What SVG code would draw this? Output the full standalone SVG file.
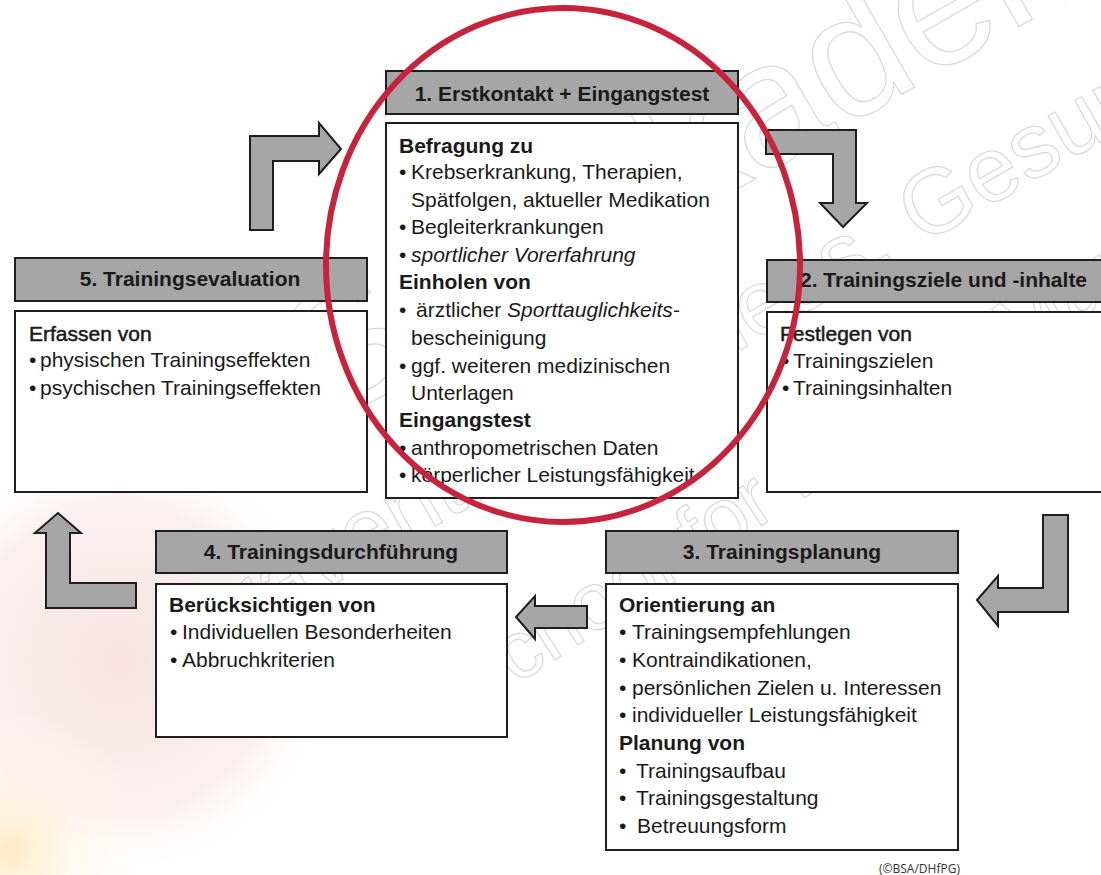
<svg xmlns="http://www.w3.org/2000/svg" width="1101" height="875" viewBox="0 0 1101 875">
<style>
.hdr{fill:#a6a6a6;stroke:#1e1e1e;stroke-width:2}
.body{fill:#ffffff;stroke:#1e1e1e;stroke-width:2}
.arr{fill:#a6a6a6;stroke:#1e1e1e;stroke-width:2;stroke-linejoin:miter}
.ht{font-family:"Liberation Sans",Arial,sans-serif;font-size:21px;font-weight:bold;fill:#1a1a1a;text-anchor:middle}
.t{font-family:"Liberation Sans",Arial,sans-serif;font-size:21px;fill:#1a1a1a}
.b{font-weight:bold}
.i{font-style:italic}
.sb{stroke:#1a1a1a;stroke-width:0.5}
.wm{font-family:"Liberation Sans",Arial,sans-serif;fill:none;stroke:#dadada;stroke-width:1.3}
</style>
<defs>
<radialGradient id="pink" cx="0.5" cy="0.5" r="0.5">
<stop offset="0" stop-color="#f6dede" stop-opacity="0.9"/>
<stop offset="0.7" stop-color="#f8e6e6" stop-opacity="0.6"/>
<stop offset="1" stop-color="#ffffff" stop-opacity="0"/>
</radialGradient>
<radialGradient id="orange" cx="0.5" cy="0.5" r="0.5">
<stop offset="0" stop-color="#fde8c0" stop-opacity="0.9"/>
<stop offset="1" stop-color="#ffffff" stop-opacity="0"/>
</radialGradient>
</defs>
<rect width="1101" height="875" fill="#ffffff"/>
<g id="background">
<circle cx="120" cy="660" r="220" fill="url(#pink)"/>
<circle cx="10" cy="850" r="140" fill="url(#orange)"/>
</g>
<g id="watermark">
<text class="wm" font-size="175" transform="translate(225,485) rotate(-30)">BSA-Akademie</text>
<text class="wm" font-size="92" transform="translate(195,665) rotate(-30)">Prävention, Fitness, Gesundheit</text>
<text class="wm" font-size="82" transform="translate(470,715) rotate(-33)">School for Health Management</text>
</g>
<g id="connectors">
<polygon class="arr" points="250,230 250,136 319,136 319,123 341,149 319,174 319,161 273,161 273,230"/>
<polygon class="arr" points="766,130 856,130 856,203 867,203 843,227 820,203 833,203 833,154 766,154"/>
<polygon class="arr" points="1068,515 1068,612 998,612 998,626 977,600 998,576 998,588 1043,588 1043,515"/>
<polygon class="arr" points="587,606 587,628 535,628 535,639 516,617 535,596 535,606"/>
<polygon class="arr" points="46,608 136,608 136,583 70,583 70,533 81,533 58,513 35,533 46,533"/>
</g>
<g id="node1">
<rect class="hdr" x="386" y="71" width="352" height="43"/>
<text class="ht" x="562" y="101">1. Erstkontakt + Eingangstest</text>
<rect class="body" x="386" y="123" width="352" height="375"/>
<text class="t b" x="399" y="153">Befragung zu</text>
<text class="t" x="399" y="179">•<tspan x="411">Krebserkrankung, Therapien,</tspan></text>
<text class="t" x="411" y="207">Spätfolgen, aktueller Medikation</text>
<text class="t" x="399" y="234">•<tspan x="411">Begleiterkrankungen</tspan></text>
<text class="t" x="399" y="262">•<tspan x="411" class="i">sportlicher Vorerfahrung</tspan></text>
<text class="t b" x="399" y="289">Einholen von</text>
<text class="t" x="399" y="317">•<tspan x="416">ärztlicher </tspan><tspan class="i">Sporttauglichkeits-</tspan></text>
<text class="t" x="411" y="345">bescheinigung</text>
<text class="t" x="399" y="373">•<tspan x="411">ggf. weiteren medizinischen</tspan></text>
<text class="t" x="411" y="400">Unterlagen</text>
<text class="t b" x="399" y="427">Eingangstest</text>
<text class="t" x="399" y="455">•<tspan x="411">anthropometrischen Daten</tspan></text>
<text class="t" x="399" y="482">•<tspan x="411">körperlicher Leistungsfähigkeit</tspan></text>
</g>
<g id="node2">
<rect class="hdr" x="767" y="260" width="352" height="42"/>
<text class="ht" x="800" y="287" style="text-anchor:start">2. Trainingsziele und  -inhalte</text>
<rect class="body" x="767" y="312" width="352" height="180"/>
<text class="t sb" x="780" y="341" font-size="22">Festlegen von</text>
<text class="t" x="782" y="368">•<tspan x="793">Trainingszielen</tspan></text>
<text class="t" x="782" y="395">•<tspan x="793">Trainingsinhalten</tspan></text>
</g>
<g id="node3">
<rect class="hdr" x="606" y="531" width="352" height="42"/>
<text class="ht" x="782" y="559">3. Trainingsplanung</text>
<rect class="body" x="606" y="584" width="352" height="266"/>
<text class="t b" x="619" y="612">Orientierung an</text>
<text class="t" x="619" y="639">•<tspan x="632">Trainingsempfehlungen</tspan></text>
<text class="t" x="619" y="667">•<tspan x="632">Kontraindikationen,</tspan></text>
<text class="t" x="619" y="695">•<tspan x="632">persönlichen Zielen u.  Interessen</tspan></text>
<text class="t" x="619" y="722">•<tspan x="632">individueller Leistungsfähigkeit</tspan></text>
<text class="t b" x="619" y="750">Planung von</text>
<text class="t" x="619" y="778">•<tspan x="636">Trainingsaufbau</tspan></text>
<text class="t" x="619" y="805">•<tspan x="636">Trainingsgestaltung</tspan></text>
<text class="t" x="619" y="833">•<tspan x="637">Betreuungsform</tspan></text>
</g>
<g id="node4">
<rect class="hdr" x="156" y="531" width="351" height="42"/>
<text class="ht" x="331" y="559">4. Trainingsdurchführung</text>
<rect class="body" x="156" y="584" width="351" height="153"/>
<text class="t b" x="169" y="612">Berücksichtigen von</text>
<text class="t" x="170" y="639">•<tspan x="182">Individuellen Besonderheiten</tspan></text>
<text class="t" x="170" y="667">•<tspan x="182">Abbruchkriterien</tspan></text>
</g>
<g id="node5">
<rect class="hdr" x="15" y="258" width="352" height="43"/>
<text class="ht" x="190" y="286">5. Trainingsevaluation</text>
<rect class="body" x="15" y="311" width="352" height="181"/>
<text class="t sb" x="29" y="341" font-size="22">Erfassen von</text>
<text class="t" x="29" y="367">•<tspan x="40">physischen Trainingseffekten</tspan></text>
<text class="t" x="29" y="395">•<tspan x="40">psychischen Trainingseffekten</tspan></text>
</g>
<g id="highlight">
<ellipse cx="563" cy="265" rx="237" ry="257" fill="none" stroke="#c8233c" stroke-width="6"/>
</g>
<text x="879" y="873" font-family="'Open Sans',sans-serif" font-size="12" fill="#333333">(©BSA/DHfPG)</text>
</svg>
